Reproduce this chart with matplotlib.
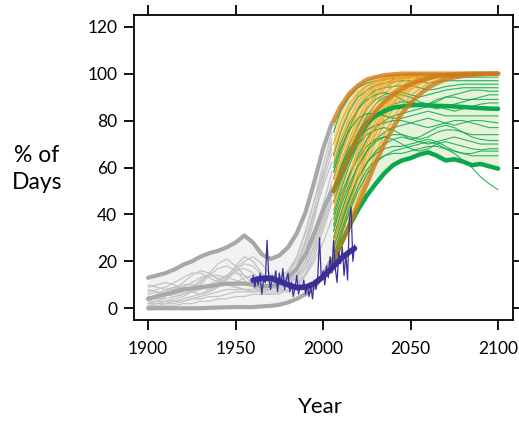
import matplotlib
matplotlib.use("Agg")
import matplotlib.pyplot as plt
import numpy as np

plt.rcParams['font.family'] = ['Lato', 'DejaVu Sans']

# ---- historical model runs (gray) ----
hist_years = [1900, 1905, 1910, 1915, 1920, 1925, 1930, 1935, 1940, 1945, 1950,
              1955, 1960, 1965, 1970, 1975, 1980, 1985, 1990, 1995, 2000, 2005]
hist_runs = [
    [2, 3, 5, 8, 11, 14, 16, 15, 12, 10, 9, 8, 7, 7, 8, 10, 14, 22, 33, 46, 58, 68],
    [6, 7, 6, 5, 6, 8, 11, 15, 19, 21, 18, 14, 10, 8, 7, 8, 11, 17, 27, 40, 52, 62],
    [9, 10, 11, 10, 8, 7, 6, 7, 9, 13, 18, 22, 20, 15, 11, 10, 12, 18, 28, 42, 56, 70],
    [1, 1, 2, 2, 3, 4, 5, 6, 7, 8, 8, 8, 8, 8, 9, 10, 12, 16, 22, 30, 40, 50],
    [4, 5, 7, 9, 10, 10, 9, 8, 9, 12, 16, 19, 18, 14, 10, 8, 7, 9, 14, 22, 33, 45],
    [3, 3, 3, 4, 5, 7, 10, 14, 17, 18, 16, 12, 9, 7, 6, 6, 8, 11, 17, 26, 37, 48],
    [7, 8, 9, 11, 13, 15, 15, 13, 11, 10, 11, 13, 14, 13, 11, 10, 11, 15, 24, 38, 54, 66],
    [0, 1, 1, 1, 2, 2, 3, 3, 4, 4, 5, 5, 6, 6, 6, 7, 8, 10, 14, 20, 28, 38],
    [5, 4, 4, 5, 6, 7, 8, 10, 12, 14, 15, 14, 12, 10, 9, 9, 10, 13, 20, 31, 44, 58],
    [10, 9, 8, 8, 9, 11, 13, 14, 13, 11, 9, 8, 8, 9, 10, 12, 15, 20, 29, 42, 57, 72],
    [2, 2, 3, 3, 4, 5, 6, 8, 10, 13, 16, 17, 15, 12, 9, 8, 8, 10, 15, 24, 35, 46],
    [8, 7, 6, 6, 7, 9, 12, 14, 14, 13, 12, 11, 11, 11, 12, 13, 16, 22, 32, 46, 61, 75],
    [1, 2, 2, 3, 3, 4, 4, 5, 5, 6, 7, 7, 7, 8, 8, 9, 11, 14, 20, 29, 40, 54],
    [4, 6, 8, 9, 9, 8, 8, 9, 11, 14, 17, 20, 22, 19, 14, 11, 11, 13, 18, 27, 38, 52],
]
hist_hi = [13, 14, 15, 16.5, 18.5, 20, 22, 23.5, 24.5, 26, 28, 31, 28, 23, 21, 22.5, 26, 32, 41, 54, 68, 79]
hist_mid = [4, 5, 6, 7, 8, 8.5, 9, 9.5, 10, 10.5, 10.5, 10.5, 10, 9.5, 9.5, 10.5, 13, 17, 23, 32, 42, 50]
hist_lo = [0, 0, 0, 0, 0, 0, 0, 0.2, 0.3, 0.4, 0.5, 0.5, 0.5, 0.8, 1, 1.5, 2.5, 4, 6, 9, 14, 21]

# ---- future projections ----
fut_years = [2006, 2010, 2015, 2020, 2025, 2030, 2035, 2040, 2045, 2050,
             2055, 2060, 2065, 2070, 2075, 2080, 2085, 2090, 2095, 2100]
green_runs = [
    [75, 84, 90, 94, 96, 97, 97.5, 98, 98, 98.5, 98.5, 98.5, 98.5, 98.5, 98.5, 98.5, 98.5, 98.5, 98.5, 98.5],
    [65, 75, 84, 90, 93, 95, 96, 96.5, 97, 97, 96.5, 96, 96.5, 97, 97, 97, 97, 97, 97, 97],
    [55, 66, 77, 85, 90, 93, 94, 94.5, 95, 95, 94, 93, 93.5, 94.5, 95, 95.5, 95.5, 95.5, 95.5, 95.5],
    [50, 60, 70, 78, 85, 89, 91, 92, 92, 91, 90, 91, 92, 93, 93.5, 94, 94, 94, 94, 94],
    [45, 55, 66, 75, 82, 87, 90, 91, 91, 90, 88, 87, 88, 90, 91, 92, 93, 93, 92.5, 92.5],
    [60, 70, 79, 85, 89, 91, 92, 91, 89, 87, 86, 87, 89, 90, 90, 89, 89, 90, 91, 91],
    [40, 50, 61, 70, 77, 82, 85, 87, 88, 88, 87, 86, 85, 86, 87, 88, 89, 89, 89, 89],
    [35, 45, 56, 65, 72, 77, 80, 82, 83, 84, 85, 86, 86, 85, 84, 85, 86, 87, 87.5, 87.5],
    [30, 40, 51, 60, 67, 72, 75, 77, 78, 79, 80, 81, 80, 79, 78, 79, 80, 80, 79.5, 79],
    [45, 54, 63, 70, 74, 76, 77, 76, 74, 72, 73, 75, 77, 78, 77, 75, 73, 72, 71.5, 71.5],
    [25, 35, 46, 55, 62, 67, 70, 72, 73, 72, 71, 70, 71, 72, 73, 72, 71, 70, 70, 70],
    [38, 48, 57, 64, 69, 72, 73, 72, 70, 68, 67, 68, 70, 71, 70, 69, 68, 67.5, 68, 68],
    [28, 37, 47, 56, 62, 66, 68, 69, 69, 70, 71, 72, 71, 69, 67, 66, 66, 67, 67, 67],
    [20, 30, 41, 50, 57, 62, 65, 67, 68, 69, 70, 71, 70, 68, 66, 63, 60, 56, 53, 50.5],
    [50, 60, 68, 73, 76, 78, 79, 80, 80, 79, 78, 77, 78, 79, 80, 80, 79, 78, 77, 77],
    [33, 43, 53, 61, 67, 71, 73, 74, 74, 73, 72, 73, 75, 76, 76, 75, 74, 74, 74, 74],
    [58, 68, 76, 81, 83, 83, 82, 81, 81, 82, 83, 84, 83, 82, 82, 82, 82, 82, 82, 82],
    [22, 32, 43, 52, 59, 63, 65, 66, 66, 67, 68, 69, 69, 68, 67, 66, 65, 65, 65, 65],
]
green_hi = [80, 86, 91, 94.5, 96.5, 97.5, 98, 98.3, 98.5, 98.5, 98.5, 98.5, 98.5, 98.5, 98.5, 98.5, 98.5, 98.5, 98.5, 98.5]
green_mid = [50, 57, 65, 73, 79, 82, 84, 85.5, 86, 86.5, 86.7, 86.5, 86.3, 86.2, 86, 85.8, 85.5, 85.3, 85.1, 85]
green_lo = [20, 27, 35, 42, 48, 53, 57.5, 61, 63, 64, 65.5, 66.5, 65, 63, 63.5, 62.5, 61, 61.5, 60.5, 59.5]

orange_runs = [
    [78, 85, 91, 95, 97, 98.5, 99, 99.5, 99.8, 100, 100, 100, 100, 100, 100, 100, 100, 100, 100, 100],
    [70, 79, 87, 92, 95, 97, 98, 99, 99.5, 99.8, 100, 100, 100, 100, 100, 100, 100, 100, 100, 100],
    [62, 72, 81, 88, 93, 96, 97.5, 98.5, 99.2, 99.6, 99.8, 100, 100, 100, 100, 100, 100, 100, 100, 100],
    [55, 65, 75, 84, 90, 94, 96, 97.5, 98.5, 99.2, 99.6, 99.8, 100, 100, 100, 100, 100, 100, 100, 100],
    [48, 58, 69, 79, 86, 91, 94.5, 96.5, 98, 99, 99.4, 99.7, 99.9, 100, 100, 100, 100, 100, 100, 100],
    [42, 52, 63, 73, 81, 87, 91.5, 94.5, 96.5, 98, 99, 99.5, 99.8, 100, 100, 100, 100, 100, 100, 100],
    [36, 46, 57, 68, 77, 84, 89, 92.5, 95, 97, 98.3, 99, 99.5, 99.8, 100, 100, 100, 100, 100, 100],
    [30, 40, 51, 62, 72, 80, 86, 90.5, 93.5, 95.8, 97.3, 98.4, 99.1, 99.5, 99.8, 100, 100, 100, 100, 100],
    [26, 35, 46, 57, 67, 76, 83, 88, 92, 94.8, 96.7, 98, 98.8, 99.3, 99.6, 99.8, 100, 100, 100, 100],
    [22, 31, 41, 52, 62, 71, 79, 85, 89.5, 93, 95.5, 97.2, 98.3, 99, 99.4, 99.7, 99.9, 100, 100, 100],
    [20, 28, 37, 47, 57, 66, 74, 81, 86.5, 90.5, 93.5, 95.8, 97.3, 98.3, 99, 99.4, 99.7, 99.9, 100, 100],
    [66, 76, 85, 91, 94.5, 96.5, 98, 99, 99.5, 100, 100, 100, 100, 100, 100, 100, 100, 100, 100, 100],
    [58, 68, 78, 86, 91.5, 95, 97, 98.3, 99, 99.5, 99.8, 100, 100, 100, 100, 100, 100, 100, 100, 100],
    [45, 56, 67, 77, 84.5, 90, 93.5, 96, 97.5, 98.6, 99.3, 99.7, 100, 100, 100, 100, 100, 100, 100, 100],
    [33, 44, 55, 66, 75, 82.5, 88, 92, 94.8, 96.8, 98, 98.9, 99.4, 99.7, 99.9, 100, 100, 100, 100, 100],
    [24, 33, 44, 55, 65, 74, 81.5, 87, 91, 94, 96.2, 97.6, 98.6, 99.2, 99.6, 99.8, 100, 100, 100, 100],
    [52, 62, 72, 81, 88, 92.5, 95.5, 97.3, 98.5, 99.2, 99.6, 99.8, 100, 100, 100, 100, 100, 100, 100, 100],
    [28, 38, 49, 60, 70, 78, 84.5, 89.5, 93, 95.5, 97.2, 98.3, 99, 99.5, 99.8, 100, 100, 100, 100, 100],
]
orange_hi = [80, 86, 91.5, 95, 97.5, 98.5, 99.3, 99.7, 100, 100, 100, 100, 100, 100, 100, 100, 100, 100, 100, 100]
orange_mid = [50, 57, 65, 73, 79.5, 84, 88, 91, 93.5, 95.5, 97, 98, 98.8, 99.3, 99.6, 99.8, 100, 100, 100, 100]
orange_lo = [20, 27, 35, 44, 53, 62, 70, 77, 83, 87.5, 91, 94, 96, 97.5, 98.4, 99, 99.4, 99.7, 99.9, 100]

# ---- observations (blue) ----
obs_years = list(range(1960, 2019))
obs = [14, 9, 13, 10, 15, 6, 12, 11, 29, 13, 8, 14, 12, 16, 7, 15, 10, 17, 8, 12,
       15, 7, 11, 5, 9, 14, 6, 10, 8, 12, 6, 10, 5, 9, 4, 12, 8, 14, 30, 12,
       16, 10, 18, 13, 22, 15, 29, 17, 11, 24, 19, 26, 14, 23, 12, 38, 43, 20, 27]
obs_smooth_years = [1960, 1965, 1970, 1975, 1980, 1985, 1990, 1995, 2000, 2005, 2010, 2015, 2018]
obs_smooth = [12, 12.8, 12.8, 11.5, 10, 8.8, 9, 10.5, 13.5, 17, 21, 24, 25.5]

GRAY_THICK = '#a8a8a8'
GRAY_THIN = '#c4c4c4'
GREEN = '#0aa84a'
ORANGE = '#f5a020'
ORANGE_THICK = '#cc7a1a'
BLUE = '#3a2f98'

fig = plt.figure(figsize=(5.19, 4.21), dpi=100)
ax = fig.add_axes([134 / 519, 1 - 320 / 421, (513 - 134) / 519, (320 - 15) / 421])

# historical
ax.fill_between(hist_years, hist_lo, hist_hi, color='#f2f2f2', lw=0, zorder=1)
for run in hist_runs:
    ax.plot(hist_years, run, color=GRAY_THIN, lw=0.9, zorder=2)
for s in (hist_hi, hist_mid, hist_lo):
    ax.plot(hist_years, s, color=GRAY_THICK, lw=3, solid_capstyle='round', zorder=3)

# future fills
ax.fill_between(fut_years, green_lo, green_hi, color='#e4f3da', lw=0, zorder=1)
ax.fill_between(fut_years, orange_lo, orange_hi, color='#f5c050', alpha=0.35, lw=0, zorder=1.5)

for i in range(max(len(green_runs), len(orange_runs))):
    if i < len(orange_runs):
        ax.plot(fut_years, orange_runs[i], color=ORANGE, lw=0.9, alpha=0.9, zorder=4)
    if i < len(green_runs):
        ax.plot(fut_years, green_runs[i], color=GREEN, lw=0.8, alpha=0.85, zorder=4)

for s in (green_mid, green_lo):
    ax.plot(fut_years, s, color=GREEN, lw=3.2, solid_capstyle='round', zorder=5)
for s in (orange_hi, orange_mid, orange_lo):
    ax.plot(fut_years, s, color=ORANGE_THICK, lw=3.2, alpha=0.78, solid_capstyle='round', zorder=6)

# observations
ax.plot(obs_years, obs, color=BLUE, lw=0.9, zorder=7)
ax.plot(obs_smooth_years, obs_smooth, color=BLUE, lw=4, solid_capstyle='round', zorder=8)

ax.set_xlim(1892, 2108.5)
ax.set_ylim(-5, 125)
ax.set_xticks([1900, 1950, 2000, 2050, 2100])
ax.set_yticks([0, 20, 40, 60, 80, 100, 120])
ax.tick_params(direction='out', length=7, width=1.3, labelsize=12.5, pad=8,
               top=True, right=True, labeltop=False, labelright=False, colors='black')
ax.tick_params(axis='y', pad=5)
for sp in ax.spines.values():
    sp.set_linewidth(1.3)

fig.text(320 / 519, 1 - 407 / 421, 'Year', ha='center', va='center', fontsize=16)
fig.text(37 / 519, 1 - 169 / 421, '% of\nDays', ha='center', va='center', fontsize=16.5, linespacing=1.3)

fig.savefig('out.png', dpi=100)
